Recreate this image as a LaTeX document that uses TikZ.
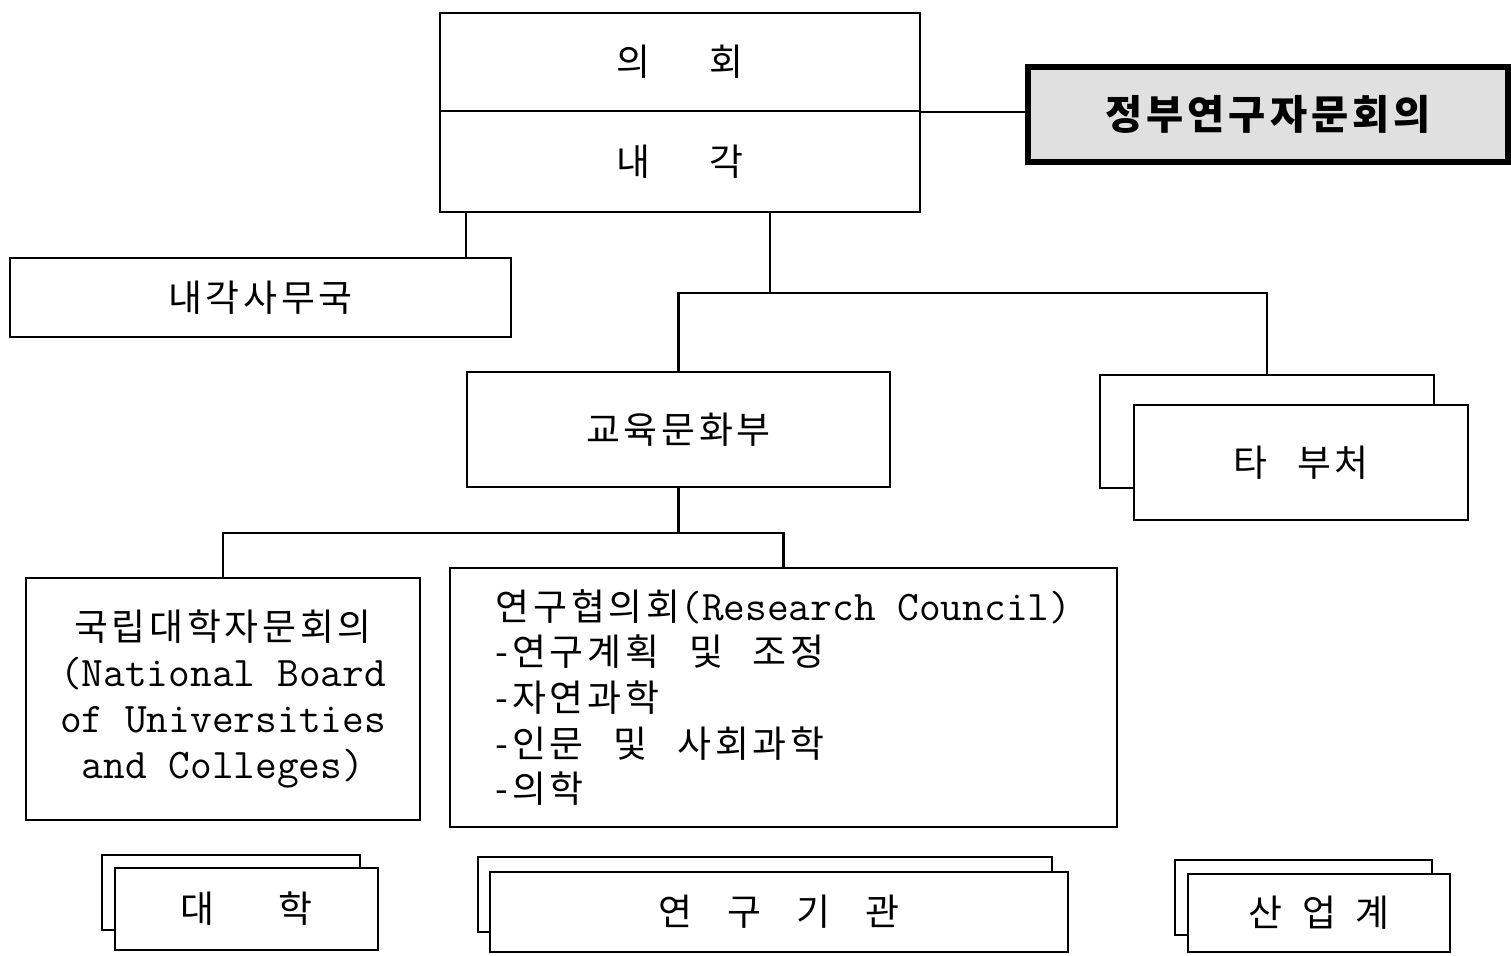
\documentclass[tikz,border=0pt]{standalone}
\usepackage{fontspec}
\setmainfont{Noto Sans CJK KR}[WordSpace=2.5, LetterSpace=10]
\usetikzlibrary{calc}

\newcommand{\eng}{\ttfamily\fontsize{12}{13}\selectfont}

\begin{document}
\begin{tikzpicture}[
  box/.style={draw, line width=0.7pt, inner sep=0pt, fill=white,
    font=\fontsize{10.5}{13}\selectfont},
  govbox/.style={box, line width=1.6pt, fill=black!12,
    font=\bfseries\fontsize{11.5}{13}\selectfont},
  link/.style={line width=0.7pt}
]
  \useasboundingbox (0,0) rectangle (15.11,-9.55);

  % top: parliament / cabinet and the advisory council
  \node[box, minimum width=4.8cm, minimum height=0.98cm] (parl) at (6.80,-0.62) {의\hspace{6mm}회};
  \node[box, minimum width=4.8cm, minimum height=1.01cm] (cab) at (6.80,-1.615) {내\hspace{6mm}각};
  \node[govbox, minimum width=4.8cm, minimum height=0.95cm] (gov) at (12.68,-1.145) {정부연구자문회의};
  \node[box, minimum width=5.01cm, minimum height=0.79cm] (sec) at (2.605,-2.975) {내각사무국};

  % ministries
  \node[box, minimum width=4.23cm, minimum height=1.15cm] (moe) at (6.785,-4.295) {교육문화부};
  \node[box, minimum width=3.34cm, minimum height=1.13cm] (othB) at (12.67,-4.315) {};
  \node[box, minimum width=3.34cm, minimum height=1.15cm] (oth) at (13.01,-4.625) {타 부처};

  % councils
  \node[box, minimum width=3.94cm, minimum height=2.42cm, align=center] (nbuc) at (2.23,-6.99)
    {국립대학자문회의\\{\eng(National Board}\\{\eng of Universities}\\{\eng and Colleges)}};
  \node[box, minimum width=6.67cm, minimum height=2.59cm, align=left] (rc) at (7.835,-6.975)
    {연구협의회{\eng(Research Council)}\\-연구계획 및 조정\\-자연과학\\-인문 및 사회과학\\-의학};

  % bottom stacks
  \node[box, minimum width=2.58cm, minimum height=0.75cm] (uniB) at (2.31,-8.925) {};
  \node[box, minimum width=2.63cm, minimum height=0.82cm] (uni) at (2.465,-9.09) {대\hspace{6.5mm}학};
  \node[box, minimum width=5.74cm, minimum height=0.75cm] (instB) at (7.65,-8.945) {};
  \node[box, minimum width=5.78cm, minimum height=0.80cm] (inst) at (7.79,-9.12) {연\hspace{3.5mm}구\hspace{3.5mm}기\hspace{3.5mm}관};
  \node[box, minimum width=2.57cm, minimum height=0.75cm] (indB) at (13.035,-8.975) {};
  \node[box, minimum width=2.62cm, minimum height=0.78cm] (ind) at (13.19,-9.13) {산\hspace{2mm}업\hspace{2mm}계};

  % connectors
  \draw[link] (parl.south east) -- (parl.south east -| gov.west);
  \draw[link] ($(cab.south west)+(0.27,0)$) coordinate (s1) -- (s1 |- sec.north);
  \coordinate (bus1) at (7.70,-2.93);
  \draw[link] (cab.south -| bus1) -- (bus1);
  \draw[link] (moe.north) |- (bus1) -| (othB.north);
  \path (moe.south) ++(0,-0.45) coordinate (bus2);
  \draw[link] (moe.south) -- (bus2);
  \draw[link] (nbuc.north) |- (bus2) -| (rc.north);
\end{tikzpicture}
\end{document}
